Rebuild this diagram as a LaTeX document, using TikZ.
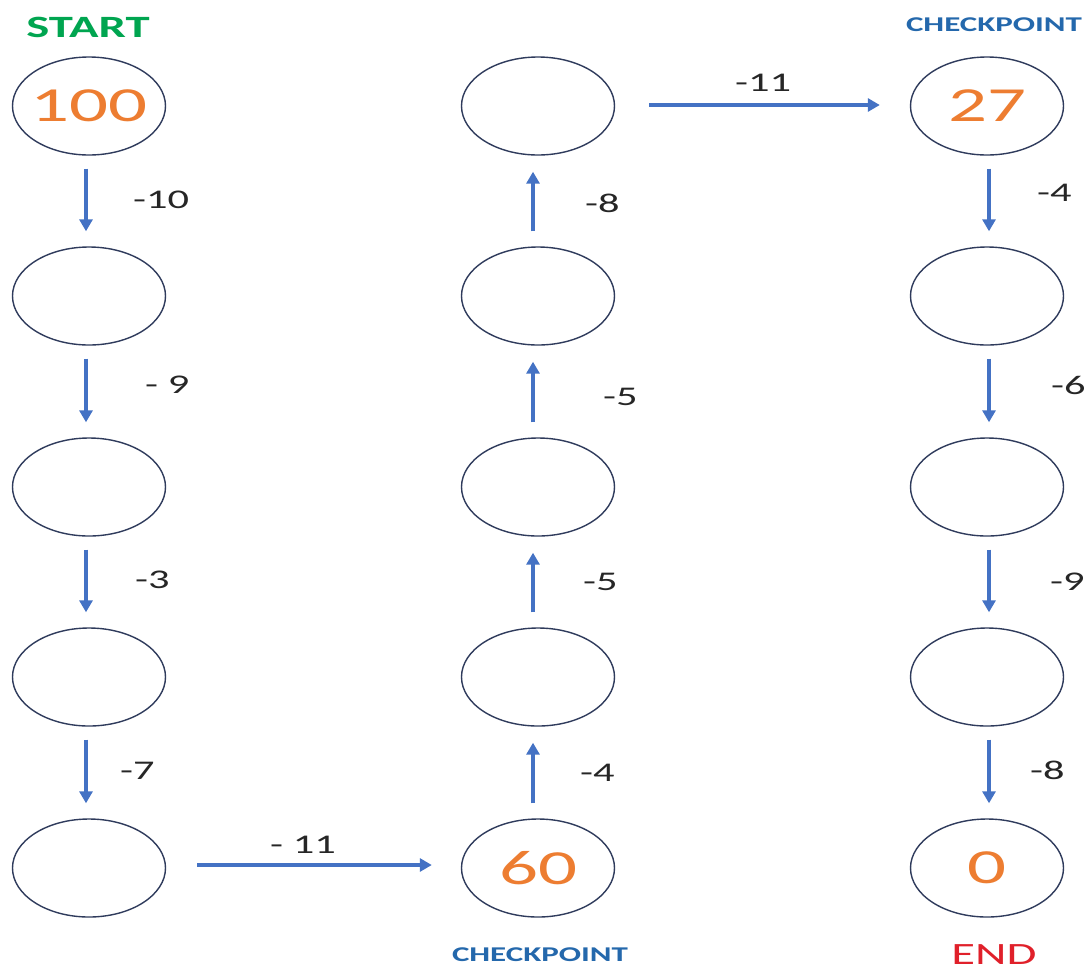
\documentclass[tikz,border=0pt]{standalone}
\usepackage{fontspec}
\setmainfont{Carlito}[FakeStretch=1.57]
\usetikzlibrary{shapes.geometric,arrows.meta}
\definecolor{arrblue}{HTML}{4472C4}
\definecolor{ringc}{HTML}{2F3B5C}
\definecolor{numor}{HTML}{ED7D31}
\definecolor{startg}{HTML}{00A550}
\definecolor{ckblue}{HTML}{2468AC}
\definecolor{endred}{HTML}{E0202A}
\begin{document}
\begin{tikzpicture}[x=1pt,y=-1pt,
  ring/.style={draw=ringc,line width=1.4pt,ellipse,minimum width=153pt,minimum height=98pt,inner sep=0pt},
  num/.style={text=numor,font=\fontsize{49}{49}\selectfont,inner sep=0pt},
  arr/.style={draw=arrblue,line width=3.4pt,-{Triangle[length=12pt,width=13pt]}},
  lab/.style={anchor=west,inner sep=0pt,font=\fontsize{27}{27}\selectfont,text=black!85},
  hlab/.style={anchor=center,inner sep=0pt,font=\fontsize{27}{27}\selectfont,text=black!85},
  ttl/.style={inner sep=0pt,font=\bfseries\fontsize{31}{31}\selectfont},
  ck/.style={inner sep=0pt,text=ckblue,font=\bfseries\fontsize{21}{21}\selectfont}
]
\useasboundingbox (0,0) rectangle (1089,978);
\fill[white] (0,0) rectangle (1089,978);

% column 1
\node[ring] (a1) at (89,106) {};
\node[ring] (a2) at (89,296) {};
\node[ring] (a3) at (89,487) {};
\node[ring] (a4) at (89,677) {};
\node[ring] (a5) at (89,868) {};
% column 2
\node[ring] (b1) at (538,106) {};
\node[ring] (b2) at (538,296) {};
\node[ring] (b3) at (538,487) {};
\node[ring] (b4) at (538,677) {};
\node[ring] (b5) at (538,868) {};
% column 3
\node[ring] (c1) at (987,106) {};
\node[ring] (c2) at (987,296) {};
\node[ring] (c3) at (987,487) {};
\node[ring] (c4) at (987,677) {};
\node[ring] (c5) at (987,868) {};

% numbers
\node[num] (n100) at (a1.center) {100};
\node[num] (n60) at (b5.center) {60};
\node[num] (n27) at (c1.center) {27};
\node[num] (n0) at (c5.center) {0};

% titles
\node[ttl,text=startg] (start) at (88,27) {START};
\node[ck] (ck1) at (994,25) {CHECKPOINT};
\node[ck] (ck2) at (540,955) {CHECKPOINT};
\node[ttl,text=endred,font=\fontsize{31}{31}\selectfont] (endt) at (994,955) {END};

% column 1 arrows (down)
\draw[arr,shorten <=13pt,shorten >=15pt] ([xshift=-3pt]a1.south) -- ([xshift=-3pt]a2.north);
\draw[arr,shorten <=13pt,shorten >=15pt] ([xshift=-3pt]a2.south) -- ([xshift=-3pt]a3.north);
\draw[arr,shorten <=13pt,shorten >=15pt] ([xshift=-3pt]a3.south) -- ([xshift=-3pt]a4.north);
\draw[arr,shorten <=13pt,shorten >=15pt] ([xshift=-3pt]a4.south) -- ([xshift=-3pt]a5.north);
% column 2 arrows (up)
\draw[arr,shorten <=15pt,shorten >=16pt] ([xshift=-5pt]b5.north) -- ([xshift=-5pt]b4.south);
\draw[arr,shorten <=15pt,shorten >=16pt] ([xshift=-5pt]b4.north) -- ([xshift=-5pt]b3.south);
\draw[arr,shorten <=15pt,shorten >=16pt] ([xshift=-5pt]b3.north) -- ([xshift=-5pt]b2.south);
\draw[arr,shorten <=15pt,shorten >=16pt] ([xshift=-5pt]b2.north) -- ([xshift=-5pt]b1.south);
% column 3 arrows (down)
\draw[arr,shorten <=13pt,shorten >=15pt] ([xshift=2pt]c1.south) -- ([xshift=2pt]c2.north);
\draw[arr,shorten <=13pt,shorten >=15pt] ([xshift=2pt]c2.south) -- ([xshift=2pt]c3.north);
\draw[arr,shorten <=13pt,shorten >=15pt] ([xshift=2pt]c3.south) -- ([xshift=2pt]c4.north);
\draw[arr,shorten <=13pt,shorten >=15pt] ([xshift=2pt]c4.south) -- ([xshift=2pt]c5.north);
% horizontal arrows
\draw[arr,shorten <=31pt,shorten >=29pt] ([yshift=3pt]a5.east) -- ([yshift=3pt]b5.west);
\draw[arr,shorten <=34pt,shorten >=30pt] ([yshift=1pt]b1.east) -- ([yshift=1pt]c1.west);

% labels column 1
\node[lab] (l1) at (133,200) {-10};
\node[lab] (l2) at (145,385) {- 9};
\node[lab] (l3) at (135,580) {-3};
\node[lab] (l4) at (120,771) {-7};
% labels column 2
\node[lab] (m1) at (585,203) {-8};
\node[lab] (m2) at (603,397) {-5};
\node[lab] (m3) at (583,582) {-5};
\node[lab] (m4) at (580,773) {-4};
% labels column 3
\node[lab] (k1) at (1037,193) {-4};
\node[lab] (k2) at (1051,385) {-6};
\node[lab] (k3) at (1050,582) {-9};
\node[lab] (k4) at (1030,770) {-8};
% horizontal labels
\node[hlab] (h1) at (303,845) {- 11};
\node[hlab] (h2) at (763,83) {-11};
\end{tikzpicture}
\end{document}
